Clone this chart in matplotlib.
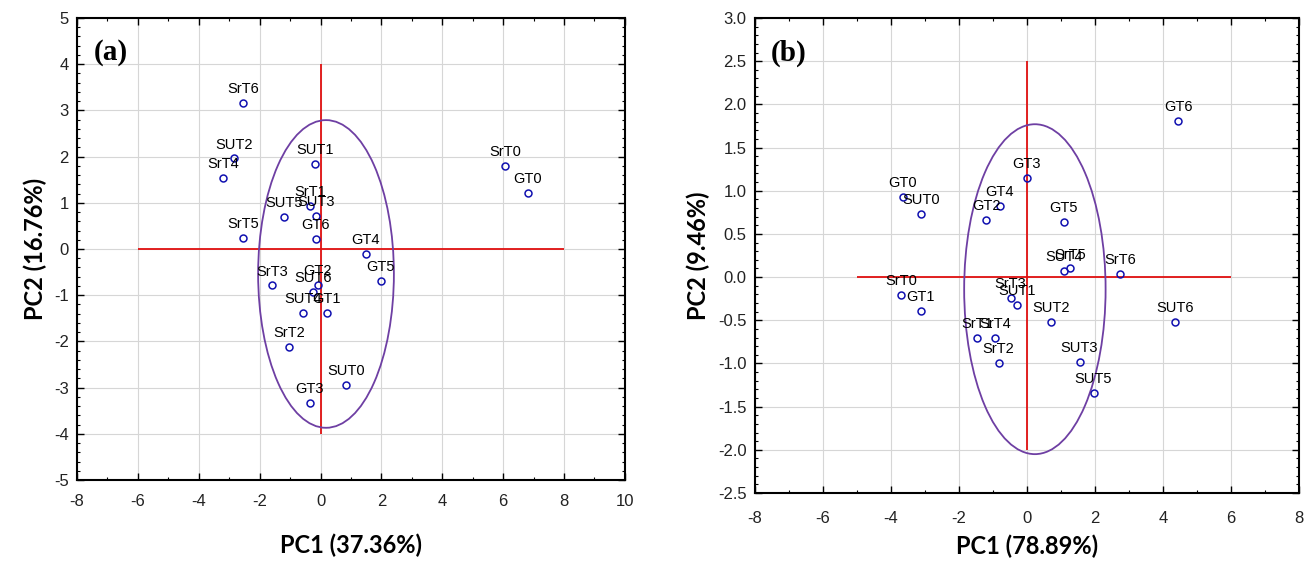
import matplotlib.pyplot as plt
from matplotlib.patches import Ellipse
from matplotlib.ticker import MultipleLocator

plt.rcParams["axes.unicode_minus"] = False

# ---- panel (a) scores ----
labels_a = ["SrT0", "SrT1", "SrT2", "SrT3", "SrT4", "SrT5", "SrT6",
            "SUT0", "SUT1", "SUT2", "SUT3", "SUT4", "SUT5", "SUT6",
            "GT0", "GT1", "GT2", "GT3", "GT4", "GT5", "GT6"]
pc1_a = [6.07, -0.35, -1.03, -1.58, -3.20, -2.54, -2.54,
         0.84, -0.19, -2.85, -0.15, -0.57, -1.20, -0.24,
         6.80, 0.20, -0.09, -0.35, 1.48, 1.98, -0.16]
pc2_a = [1.79, 0.93, -2.13, -0.79, 1.53, 0.24, 3.17,
         -2.94, 1.85, 1.96, 0.72, -1.39, 0.69, -0.92,
         1.21, -1.39, -0.77, -3.33, -0.10, -0.70, 0.22]

# ---- panel (b) scores ----
labels_b = ["SrT0", "SrT1", "SrT2", "SrT3", "SrT4", "SrT5", "SrT6",
            "SUT0", "SUT1", "SUT2", "SUT3", "SUT4", "SUT5", "SUT6",
            "GT0", "GT1", "GT2", "GT3", "GT4", "GT5", "GT6"]
pc1_b = [-3.69, -1.47, -0.83, -0.48, -0.93, 1.28, 2.74,
         -3.12, -0.28, 0.70, 1.55, 1.09, 1.96, 4.37,
         -3.65, -3.12, -1.19, 0.00, -0.80, 1.09, 4.45]
pc2_b = [-0.21, -0.71, -0.99, -0.24, -0.71, 0.10, 0.04,
         0.73, -0.32, -0.52, -0.98, 0.07, -1.34, -0.52,
         0.93, -0.39, 0.66, 1.15, 0.82, 0.64, 1.81]

# cross lines and confidence ellipses (center x, center y, width, height)
cross_a = {"h": (-6, 8), "v": (-4, 4)}
cross_b = {"h": (-5, 6), "v": (-2.0, 2.5)}
ell_a = (0.18, -0.54, 4.46, 6.66)
ell_b = (0.235, -0.14, 4.16, 3.82)

BLUE = "#1010b0"
RED = "#e01010"
PURPLE = "#6e3fa3"

fig = plt.figure(figsize=(13.14, 5.61), dpi=100)
ax1 = fig.add_axes([0.0586, 0.1444, 0.4170, 0.8235])
ax2 = fig.add_axes([0.5745, 0.1212, 0.4140, 0.8467])


def draw_panel(ax, names, xs, ys, cross, ell, tag, xpad):
    ax.grid(True, color="#d6d6d6", linewidth=0.8, zorder=0)
    ax.set_axisbelow(True)
    ax.hlines(0, cross["h"][0], cross["h"][1], color=RED, lw=1.3, zorder=2)
    ax.vlines(0, cross["v"][0], cross["v"][1], color=RED, lw=1.3, zorder=2)
    cx, cy, w, h = ell
    ax.add_patch(Ellipse((cx, cy), w, h, fill=False, edgecolor=PURPLE,
                         lw=1.3, zorder=3))
    ax.plot(xs, ys, "o", ms=5, mfc="none", mec=BLUE, mew=1.1, zorder=4)
    for n, x, y in zip(names, xs, ys):
        ax.annotate(n, (x, y), xytext=(0, 5), textcoords="offset points",
                    ha="center", va="bottom", fontsize=10.5,
                    family="Liberation Sans", zorder=5)
    ax.text(0.03, 0.955, tag, transform=ax.transAxes, ha="left", va="top",
            fontsize=21, fontweight="bold", family="Liberation Serif")
    ax.tick_params(which="both", direction="in", top=True, right=True,
                   labelsize=12, labelcolor="#222222")
    ax.tick_params(axis="x", which="major", pad=xpad)
    ax.tick_params(axis="y", which="major", pad=6)
    ax.tick_params(which="major", length=5, width=1)
    ax.tick_params(which="minor", length=2.5, width=0.8)
    for lab in ax.get_xticklabels() + ax.get_yticklabels():
        lab.set_family("Liberation Sans")
    for s in ax.spines.values():
        s.set_linewidth(1.5)


# panel (a)
ax1.set_xlim(-8, 10)
ax1.set_ylim(-5, 5)
ax1.xaxis.set_major_locator(MultipleLocator(2))
ax1.xaxis.set_minor_locator(MultipleLocator(1))
ax1.yaxis.set_major_locator(MultipleLocator(1))
ax1.yaxis.set_minor_locator(MultipleLocator(0.2))
draw_panel(ax1, labels_a, pc1_a, pc2_a, cross_a, ell_a, "(a)", 10)
ax1.set_xlabel("PC1 (37.36%)", fontsize=17, fontweight="bold",
               family="Lato", labelpad=18)
ax1.set_ylabel("PC2 (16.76%)", fontsize=17, fontweight="bold",
               family="Lato", labelpad=5)

# panel (b)
ax2.set_xlim(-8, 8)
ax2.set_ylim(-2.5, 3.0)
ax2.xaxis.set_major_locator(MultipleLocator(2))
ax2.xaxis.set_minor_locator(MultipleLocator(1))
ax2.yaxis.set_major_locator(MultipleLocator(0.5))
ax2.yaxis.set_minor_locator(MultipleLocator(0.1))
ax2.yaxis.set_major_formatter(lambda v, p: f"{v:.1f}")
draw_panel(ax2, labels_b, pc1_b, pc2_b, cross_b, ell_b, "(b)", 13)
ax2.set_xlabel("PC1 (78.89%)", fontsize=17, fontweight="bold",
               family="Lato", labelpad=6)
ax2.set_ylabel("PC2 (9.46%)", fontsize=17, fontweight="bold",
               family="Lato", labelpad=6)

fig.savefig("out.png", dpi=100)
